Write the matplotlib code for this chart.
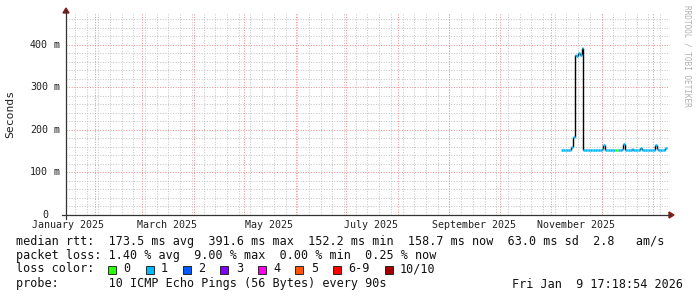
import datetime as dt
import numpy as np
import matplotlib
matplotlib.use('Agg')
import matplotlib.pyplot as plt
import matplotlib.dates as mdates
from matplotlib.lines import Line2D
from matplotlib.patches import Rectangle, Polygon

W, H = 697, 297
MONO = 'DejaVu Sans Mono'

# ---- data ----
t_start = dt.datetime(2025, 1, 14, 17, 18, 54)
t_end = dt.datetime(2026, 1, 9, 17, 18, 54)
first_day = dt.datetime(2025, 11, 7)

# daily median rtt in ms, Nov 7 2025 .. Jan 8 2026
median_ms = [
    153, 152.5, 153, 152.2, 153, 152.6, 160, 183, 377, 374, 381, 376, 391.6,
    153, 152.5, 153, 152.6, 153.2, 152.8, 153, 152.4, 153, 152.7, 153.1,
    155, 165, 153, 152.5, 153, 152.8, 153.4, 152.6, 153, 154, 153.5, 153,
    155, 167, 154, 152.5, 154, 153, 155, 153.5, 154, 152.8, 154, 157, 153,
    154, 153.2, 154, 152.7, 153.5, 154,
    153, 165, 155, 153, 154, 152.5, 154, 158.7,
]
# loss bucket per day (index into loss_colors)
loss_level = [1] * len(median_ms)
loss_level[32] = 0   # Dec 9
loss_level[33] = 0   # Dec 10

loss_labels = ['0', '1', '2', '3', '4', '5', '6-9', '10/10']
loss_colors = ['#26ff00', '#00b8ff', '#0059ff', '#7e00ff', '#ff00ea',
               '#ff5500', '#ff0000', '#a10000']

y_ticks = [0, 100, 200, 300, 400]
month_labels = ['January 2025', 'March 2025', 'May 2025', 'July 2025',
                'September 2025', 'November 2025']
month_label_dates = [dt.datetime(2025, m, 16) for m in (1, 3, 5, 7, 9, 11)]

legend_rows = [
    'median rtt:  173.5 ms avg  391.6 ms max  152.2 ms min  158.7 ms now  63.0 ms sd  2.8   am/s',
    'packet loss: 1.40 % avg  9.00 % max  0.00 % min  0.25 % now',
]
probe_text = 'probe:       10 ICMP Echo Pings (56 Bytes) every 90s'
stamp_text = 'Fri Jan  9 17:18:54 2026'

# ---- figure ----
fig = plt.figure(figsize=(W / 100, H / 100), dpi=100)
fig.patch.set_facecolor('white')

L, R, T, B = 66, 668, 13, 215
ax = fig.add_axes([L / W, 1 - B / H, (R - L) / W, (B - T) / H])
ax.set_xlim(t_start, t_end)
ax.set_ylim(0, 475)
for s in ax.spines.values():
    s.set_visible(False)

# grid: 1px dots, rrdtool style
dots = (0, (1, 1.6))
grid_kw = dict(lw=0.72, ls=dots, snap=True)
for y in np.arange(20, 475, 20):
    if y % 100:
        ax.axhline(y, color='#c4c4c4', zorder=0, **grid_kw)
mondays = mdates.WeekdayLocator(byweekday=mdates.MO).tick_values(t_start, t_end)
for x in mondays:
    ax.axvline(x, color='#c4c4c4', zorder=0, **grid_kw)
for y in y_ticks[1:]:
    ax.axhline(y, color='#ee9090', zorder=1, **grid_kw)
xmin = mdates.date2num(t_start)
months = mdates.MonthLocator().tick_values(t_start, t_end)
for x in months:
    if x > xmin:
        ax.axvline(x, color='#ee9090', zorder=1, **grid_kw)

# data
days = [first_day + dt.timedelta(days=i) for i in range(len(median_ms))]
t0 = mdates.date2num(days)
t1 = t0 + 1
for i in range(1, len(median_ms)):
    ax.vlines(t0[i], median_ms[i - 1], median_ms[i], color='black', lw=1.0, zorder=3)
for a, b, v, lv in zip(t0, t1, median_ms, loss_level):
    ax.hlines(v, a, b, color=loss_colors[lv], lw=1.8, zorder=4)

# ticks
ax.set_xticks(mdates.date2num(month_label_dates))
ax.set_xticklabels(month_labels, fontfamily=MONO, fontsize=7.2, color='#222222')
ax.tick_params(axis='x', length=0, pad=3.5)
ax.set_yticks([])
for y in y_ticks:
    ax.annotate(str(y), xy=(0, y), xycoords=('axes fraction', 'data'),
                xytext=(-18, 0), textcoords='offset pixels', ha='right', va='center',
                fontfamily=MONO, fontsize=7.2, color='#222222')
    if y:
        ax.annotate('m', xy=(0, y), xycoords=('axes fraction', 'data'),
                    xytext=(-9, 0), textcoords='offset pixels', ha='center', va='center',
                    fontfamily=MONO, fontsize=7.2, color='#222222')

def fx(px):
    return px / W

def fy(py):
    return 1 - py / H

# axes with arrows
fig.add_artist(Line2D([fx(62), fx(670)], [fy(B), fy(B)], color='#333333', lw=0.9))
fig.add_artist(Line2D([fx(L), fx(L)], [fy(219), fy(10)], color='#333333', lw=0.9))
fig.add_artist(Polygon([[fx(669), fy(B - 3)], [fx(674), fy(B)], [fx(669), fy(B + 3)]],
                       closed=True, color='#8b1a1a'))
fig.add_artist(Polygon([[fx(L - 3), fy(13)], [fx(L), fy(8)], [fx(L + 3), fy(13)]],
                       closed=True, color='#8b1a1a'))

fig.text(fx(10), fy(114), 'Seconds', rotation=90, ha='center', va='center',
         fontfamily=MONO, fontsize=8.2, color='#222222')
fig.text(fx(687), fy(5), 'RRDTOOL / TOBI OETIKER', rotation=270, ha='center', va='top',
         fontfamily=MONO, fontsize=5.6, color='#b0b0b0')

# legend
CW = 7.08
rows_y = [241, 255, 269, 284]
for row, y in zip(legend_rows, rows_y):
    fig.text(fx(16), fy(y), row, ha='left', va='center', fontfamily=MONO,
             fontsize=8.5, color='#111111')
fig.text(fx(16), fy(rows_y[2]), 'loss color:', ha='left', va='center',
         fontfamily=MONO, fontsize=8.5, color='#111111')
bx = 16 + 13 * CW
for lab, col in zip(loss_labels, loss_colors):
    fig.add_artist(Rectangle((fx(bx), fy(rows_y[2] + 4.5)), 8 / W, 8 / H,
                             facecolor=col, edgecolor='#111111', lw=0.6))
    fig.text(fx(bx + 15.2), fy(rows_y[2]), lab, ha='left', va='center',
             fontfamily=MONO, fontsize=8.5, color='#111111')
    bx = bx + 15.2 + len(lab) * CW + 15.2
fig.text(fx(16), fy(rows_y[3]), probe_text, ha='left', va='center',
         fontfamily=MONO, fontsize=8.5, color='#111111')
fig.text(fx(683), fy(rows_y[3]), stamp_text, ha='right', va='center',
         fontfamily=MONO, fontsize=8.5, color='#111111')

fig.savefig('out.png', dpi=100, facecolor='white')
